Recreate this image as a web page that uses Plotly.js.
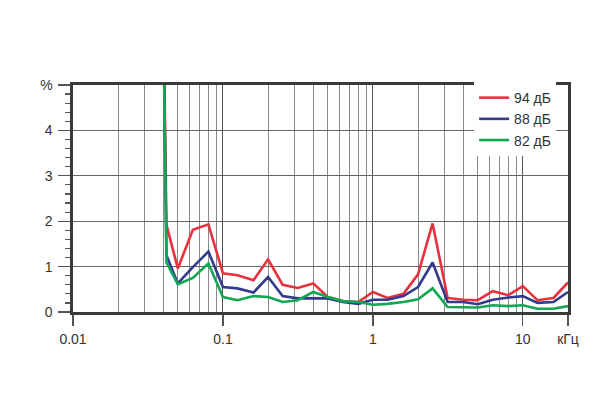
<!DOCTYPE html>
<html>
<head>
<meta charset="utf-8">
<script src="https://cdn.plot.ly/plotly-3.0.1.min.js"></script>
<style>html,body{margin:0;padding:0;background:#fff;}#chart{width:600px;height:420px;}</style>
</head>
<body>
<div id="chart"></div>
<script>
// Frequencies, kHz
const freq = [0.0395, 0.042, 0.05, 0.063, 0.08, 0.1, 0.125, 0.16, 0.2, 0.25, 0.315, 0.4, 0.5, 0.63, 0.8, 1, 1.25, 1.6, 2, 2.5, 3.15, 4, 5, 6.3, 8, 10, 12.5, 16, 20];
// THD, %
const thd94 = [8, 1.92, 0.96, 1.81, 1.93, 0.85, 0.81, 0.70, 1.16, 0.60, 0.53, 0.63, 0.33, 0.24, 0.22, 0.44, 0.31, 0.40, 0.83, 1.95, 0.31, 0.27, 0.26, 0.46, 0.37, 0.57, 0.26, 0.31, 0.65];
const thd88 = [8, 1.25, 0.63, 0.99, 1.33, 0.55, 0.52, 0.43, 0.77, 0.35, 0.30, 0.30, 0.30, 0.22, 0.18, 0.27, 0.27, 0.35, 0.55, 1.09, 0.22, 0.22, 0.17, 0.27, 0.32, 0.35, 0.20, 0.22, 0.44];
const thd82 = [8, 1.09, 0.61, 0.75, 1.07, 0.33, 0.26, 0.35, 0.33, 0.22, 0.26, 0.44, 0.33, 0.24, 0.22, 0.16, 0.18, 0.22, 0.28, 0.52, 0.11, 0.11, 0.10, 0.15, 0.13, 0.15, 0.07, 0.07, 0.13];
const seriesNames = ['94 дБ', '88 дБ', '82 дБ'];
const seriesColors = ['#e8313c', '#343a8c', '#13a653'];
const xTickVals = [0.01, 0.1, 1, 10, 20];
const xTickText = ['0.01', '0.1', '1', '10', 'кГц'];
const xMinorVals = [0.02,0.03,0.04,0.05,0.06,0.07,0.08,0.09,0.2,0.3,0.4,0.5,0.6,0.7,0.8,0.9,2,3,4,5,6,7,8,9];
const yTickVals = [0, 1, 2, 3, 4, 5];
const yTickText = ['0', '1', '2', '3', '4', '%'];

const data = [thd94, thd88, thd82].map((y, i) => ({
  x: freq, y: y, type: 'scatter', mode: 'lines', name: seriesNames[i],
  line: {color: seriesColors[i], width: 2.6}
}));

const layout = {
  width: 600, height: 420,
  margin: {l: 73, r: 32, t: 85, b: 108},
  paper_bgcolor: '#fff', plot_bgcolor: '#fff',
  font: {family: '"Liberation Sans", Arial, sans-serif', size: 14, color: '#333'},
  showlegend: true,
  legend: {x: 0.976, xanchor: 'right', y: 0.85, yanchor: 'middle', bgcolor: '#fff',
           font: {size: 14, color: '#333'}, tracegroupgap: 0, itemwidth: 30},
  xaxis: {
    type: 'log', range: [-2, Math.log10(20)],
    tickmode: 'array', tickvals: xTickVals, ticktext: xTickText,
    ticks: 'outside', ticklen: 11, tickwidth: 1.2, tickcolor: '#555',
    ticklabelstandoff: 2,
    showgrid: true, gridcolor: '#555', gridwidth: 1,
    minor: {tickmode: 'array', tickvals: xMinorVals, ticks: '', showgrid: true, gridcolor: '#8a8a8a', gridwidth: 1},
    showline: true, linecolor: '#3a3a3a', linewidth: 2.6, mirror: true,
    zeroline: false, fixedrange: true
  },
  yaxis: {
    range: [0, 5],
    tickmode: 'array', tickvals: yTickVals, ticktext: yTickText,
    ticks: 'outside', ticklen: 12, tickwidth: 1.2, tickcolor: '#555',
    ticklabelstandoff: 3,
    showgrid: true, gridcolor: '#666', gridwidth: 1,
    minor: {dtick: 0.2, ticks: 'outside', ticklen: 5, tickwidth: 1.2, tickcolor: '#555', showgrid: false},
    showline: true, linecolor: '#3a3a3a', linewidth: 2.6, mirror: true,
    zeroline: false, fixedrange: true
  }
};

Plotly.newPlot('chart', data, layout, {displayModeBar: false, staticPlot: true});
</script>
</body>
</html>
